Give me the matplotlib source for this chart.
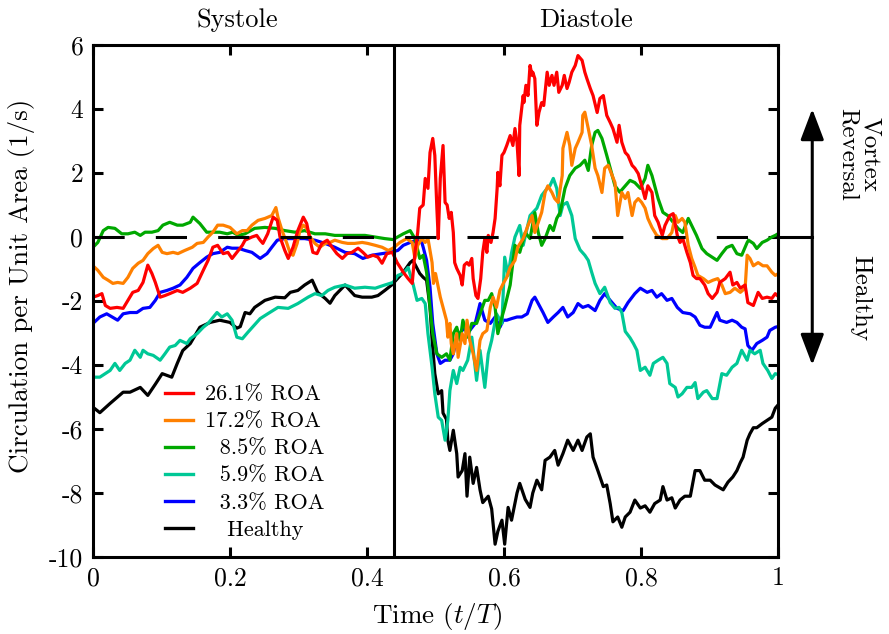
import matplotlib
matplotlib.use("Agg")
import matplotlib.pyplot as plt
from matplotlib.lines import Line2D

plt.rcParams['font.family'] = ['cmr10', 'DejaVu Serif']
plt.rcParams['mathtext.fontset'] = 'cm'
plt.rcParams['axes.unicode_minus'] = False
plt.rcParams['axes.formatter.use_mathtext'] = False

# ---------------- data ----------------
t_red = [0, .007, .013, .018, .025, .035, .044, .051, .058, .066, .073, .080, .086, .091, .098, .105, .112, .123, .131, .142,
         .152, .161, .168, .175, .182, .190, .197, .203, .210, .218, .222, .232, .239, .244, .248, .255, .263, .269, .273, .280,
         .285, .292, .299, .307, .312, .317, .321, .327, .334, .342, .349, .356, .364, .371, .378, .387, .394, .401, .409, .416,
         .422, .429, .437, .444, .453, .460, .466, .470, .474, .477, .482, .485, .489, .492, .496, .499, .502, .504, .507, .511,
         .514, .517, .520, .523, .526, .528, .531, .536, .539, .542, .546, .549, .553, .555, .559, .562, .566, .569, .572, .575,
         .577, .581, .584, .587, .590, .591, .594, .597, .600, .604, .609, .613, .616, .619, .622, .623, .628, .629, .632, .635,
         .638, .641, .642, .645, .648, .651, .655, .658, .663, .666, .670, .673, .677, .680, .685, .688, .692, .695, .699, .704,
         .708, .714, .718, .721, .726, .730, .736, .740, .745, .750, .755, .759, .765, .768, .772, .777, .781, .787, .791, .796,
         .801, .806, .810, .816, .820, .825, .831, .835, .842, .847, .853, .857, .861, .867, .872, .876, .881, .886, .893, .898,
         .904, .911, .915, .923, .930, .934, .940, .945, .952, .956, .964, .971, .977, .984, .991, .996, 1.0]
v_red = [-1.88, -1.83, -1.77, -2.14, -2.23, -2.2, -2.23, -1.98, -1.73, -1.67, -1.42, -0.88, -1.14, -1.42, -1.88, -1.83, -1.77, -1.67, -1.73, -1.6,
         -1.45, -1.04, -0.73, -0.32, -0.26, -0.52, -0.48, -0.67, -0.48, -0.26, -0.1, 0.0, 0.05, -0.1, -0.2, 0.1, 0.62, 0.52, 0.0, -0.42,
         -0.67, -0.32, 0.2, 0.62, 0.42, -0.1, -0.48, -0.52, -0.2, -0.1, -0.32, -0.52, -0.67, -0.52, -0.48, -0.35, -0.48, -0.63, -0.57, -0.63,
         -0.82, -0.52, -0.48, -0.8, -1.1, -1.3, -1.45, -0.48, 0.14, 0.9, 1.0, 1.83, 1.52, 2.64, 3.08, 2.55, 0.9, -0.05, 1.83, 2.86,
         1.08, 1.0, 0.58, 0.77, 0.14, -0.8, -0.98, -1.2, -1.5, -0.88, -0.8, -0.88, -0.67, -1.3, -1.83, -1.92, -1.3, -0.48, -0.05, -0.48,
         0.05, -0.17, 0.14, 0.58, 1.52, 2.02, 1.6, 2.55, 2.64, 2.86, 3.17, 2.86, 3.39, 2.96, 1.92, 3.49, 4.42, 4.2, 4.74, 4.42,
         5.36, 5.05, 5.15, 4.95, 3.49, 3.89, 4.2, 4.11, 5.15, 4.74, 5.05, 4.74, 5.15, 4.52, 4.74, 5.05, 4.64, 4.83, 5.15, 5.36,
         5.67, 5.52, 5.15, 4.95, 4.64, 4.42, 3.89, 4.33, 4.42, 3.8, 3.58, 3.39, 2.96, 3.49, 2.96, 2.64, 2.55, 2.24, 2.15, 1.98,
         1.6, 1.2, 1.6, 1.39, 0.67, 0.46, 0.05, 0.36, 0.67, 0.73, 0.05, -0.17, -0.05, -0.48, -0.8, -1.2, -1.3, -1.3, -1.5, -1.77,
         -1.92, -1.73, -1.42, -1.3, -1.1, -1.5, -1.42, -1.6, -1.5, -2.05, -2.14, -1.73, -1.92, -1.88, -1.92, -1.77, -1.85]

t_orange = [0, .007, .015, .022, .029, .036, .044, .051, .058, .066, .073, .080, .088, .095, .101, .108, .117, .124, .134, .145,
            .152, .161, .168, .175, .182, .190, .200, .210, .218, .225, .232, .241, .251, .261, .267, .270, .276, .283, .288, .292,
            .298, .302, .307, .312, .317, .324, .331, .339, .346, .353, .364, .372, .382, .393, .401, .412, .422, .431, .438, .448,
            .458, .466, .470, .474, .480, .485, .489, .495, .497, .500, .507, .511, .516, .518, .521, .523, .526, .531, .533, .539,
            .543, .546, .550, .555, .560, .565, .569, .575, .580, .584, .589, .594, .599, .604, .609, .616, .620, .628, .635, .641,
            .645, .650, .655, .660, .664, .670, .674, .679, .685, .686, .692, .696, .699, .704, .708, .714, .715, .718, .723, .728,
            .733, .737, .743, .747, .752, .758, .762, .766, .772, .777, .781, .787, .791, .796, .801, .806, .810, .816, .823, .831,
            .838, .845, .850, .854, .860, .864, .869, .874, .879, .883, .891, .898, .905, .912, .918, .923, .930, .937, .945, .952,
            .955, .959, .964, .971, .978, .984, .991, .996, 1.0]
v_orange = [-0.9, -1.04, -1.26, -1.35, -1.45, -1.42, -1.45, -1.26, -0.98, -0.82, -0.73, -0.52, -0.36, -0.26, -0.48, -0.52, -0.48, -0.52, -0.42, -0.32,
            -0.2, -0.17, 0.0, 0.15, 0.37, 0.37, 0.3, 0.1, 0.2, 0.2, 0.37, 0.52, 0.58, 0.67, 0.92, 0.62, 0.2, -0.2, -0.52, -0.57,
            -0.2, 0.2, 0.37, 0.27, 0.0, -0.2, -0.32, -0.2, -0.17, -0.1, -0.17, -0.2, -0.2, -0.17, -0.2, -0.26, -0.32, -0.42, -0.35, -0.17,
            -0.05, -0.17, -0.67, -0.26, -0.05, -0.17, -0.05, -0.8, -1.45, -1.14, -1.88, -2.2, -2.6, -3.13, -2.7, -3.33, -3.65, -3.02, -3.76, -3.02,
            -3.33, -2.6, -3.23, -3.65, -4.17, -3.23, -3.02, -2.92, -2.2, -1.88, -2.2, -1.67, -1.45, -1.26, -0.95, -0.73, -0.32, -0.05, 0.36, 0.67,
            0.14, 0.46, 0.77, 1.39, 1.6, 1.39, 1.2, 1.08, 1.92, 2.77, 3.27, 2.86, 2.24, 2.77, 2.96, 3.27, 3.8, 3.9, 3.39, 2.86,
            2.15, 1.92, 1.39, 2.15, 2.24, 1.92, 1.7, 0.67, 1.39, 1.2, 1.39, 0.67, 1.08, 1.2, 1.08, 0.9, 0.58, 0.3, 0.05, -0.05,
            -0.05, 0.14, 0.67, 0.46, 0.58, 0.46, -0.26, -0.67, -0.95, -1.2, -1.3, -1.42, -1.35, -1.3, -1.5, -1.77, -1.73, -1.6, -1.73, -1.6,
            -0.57, -0.67, -0.9, -0.8, -0.9, -0.9, -1.1, -1.2, -1.15]

t_green = [0, .007, .015, .022, .032, .042, .051, .061, .069, .076, .086, .095, .102, .112, .123, .131, .142, .146, .156, .166,
           .175, .185, .196, .204, .212, .222, .236, .251, .266, .280, .295, .309, .324, .339, .353, .368, .382, .397, .412, .426,
           .438, .453, .463, .470, .477, .482, .487, .492, .496, .502, .509, .516, .521, .526, .531, .536, .540, .547, .553, .560,
           .565, .572, .577, .582, .587, .591, .597, .601, .609, .616, .623, .631, .638, .645, .650, .655, .660, .667, .672, .677,
           .682, .689, .696, .704, .711, .718, .723, .728, .733, .737, .743, .750, .758, .762, .769, .777, .784, .791, .799, .806,
           .810, .816, .820, .825, .832, .839, .847, .854, .861, .869, .876, .881, .889, .896, .904, .911, .918, .925, .933, .940,
           .947, .955, .957, .964, .969, .977, .984, .991, .996, 1.0]
v_green = [-0.32, -0.17, 0.2, 0.3, 0.27, 0.1, 0.1, 0.15, 0.05, 0.15, 0.15, 0.2, 0.37, 0.46, 0.37, 0.37, 0.46, 0.62, 0.42, 0.15,
           0.15, 0.15, 0.1, 0.15, 0.05, 0.1, 0.27, 0.3, 0.27, 0.2, 0.15, 0.2, 0.1, 0.1, 0.05, 0.05, 0.05, 0.05, 0.0, -0.05,
           -0.08, 0.1, 0.2, -0.05, -0.67, -0.57, -1.1, -2.2, -3.02, -3.65, -3.76, -3.65, -3.85, -3.02, -2.82, -3.23, -2.6, -3.13, -2.7, -2.7,
           -2.4, -1.98, -1.98, -1.77, -2.2, -3.02, -2.5, -2.2, -1.5, -0.26, -0.48, 0.14, -0.05, 0.76, 0.14, -0.26, -0.05, 0.36, 0.2, 0.58,
           0.77, 1.52, 1.92, 2.15, 2.24, 2.4, 2.08, 2.86, 3.27, 3.33, 3.08, 2.55, 1.92, 1.6, 1.4, 1.6, 1.77, 1.7, 1.52, 1.83,
           2.24, 1.92, 1.6, 1.2, 0.77, 0.67, 0.46, 0.27, 0.14, 0.58, 0.27, 0.05, -0.36, -0.52, -0.63, -0.73, -0.52, -0.33, -0.26, -0.52,
           -0.57, -0.17, -0.1, -0.2, -0.36, -0.17, -0.1, 0.0, 0.05, 0.1]

t_teal = [0, .010, .018, .025, .032, .039, .047, .054, .061, .069, .073, .080, .088, .098, .105, .112, .120, .127, .137, .142,
          .152, .161, .168, .181, .188, .196, .203, .210, .218, .226, .244, .255, .270, .285, .299, .314, .324, .334, .343, .353,
          .368, .382, .397, .412, .426, .438, .445, .453, .460, .467, .473, .480, .485, .489, .495, .499, .504, .509, .514, .518,
          .521, .526, .531, .536, .540, .547, .553, .560, .565, .572, .577, .582, .589, .597, .601, .606, .611, .616, .623, .628,
          .638, .648, .655, .663, .667, .672, .677, .682, .686, .692, .699, .704, .711, .718, .723, .728, .733, .740, .747, .755,
          .762, .768, .772, .777, .784, .789, .794, .799, .806, .813, .818, .825, .832, .838, .842, .850, .854, .860, .867, .874,
          .879, .883, .891, .896, .904, .911, .918, .925, .933, .940, .947, .955, .959, .966, .974, .978, .985, .991, .996, 1.0]
v_teal = [-4.38, -4.38, -4.27, -4.17, -3.95, -4.17, -3.95, -3.85, -3.54, -3.76, -3.54, -3.65, -3.7, -3.85, -3.65, -3.44, -3.39, -3.23, -3.33, -3.18,
          -3.02, -2.82, -2.7, -2.36, -2.5, -2.4, -2.6, -3.13, -3.18, -2.98, -2.55, -2.4, -2.2, -2.23, -2.08, -1.88, -1.77, -1.83, -1.67, -1.57,
          -1.5, -1.6, -1.57, -1.6, -1.5, -1.42, -1.2, -1.14, -0.95, -1.45, -1.98, -1.92, -2.08, -3.02, -4.07, -4.9, -5.63, -5.73, -6.35, -5.73,
          -4.8, -4.17, -4.58, -4.07, -4.17, -3.85, -3.13, -4.48, -3.54, -4.7, -3.65, -3.23, -2.4, -2.7, -0.63, -1.2, -0.5, 0.0, 0.36, -0.26,
          0.67, 0.9, 1.3, 1.52, 1.6, 1.83, 1.52, 0.67, 1.0, 1.08, 0.67, -0.05, -0.4, -0.57, -0.73, -1.1, -1.45, -1.77, -1.57, -2.05,
          -2.23, -2.2, -2.36, -2.95, -3.15, -3.33, -3.54, -4.17, -4.07, -4.32, -3.95, -3.85, -3.76, -3.95, -4.58, -4.7, -5.0, -4.9, -4.7, -4.7,
          -4.55, -5.05, -4.85, -4.8, -5.05, -5.05, -4.27, -4.32, -4.07, -3.95, -3.54, -3.85, -3.54, -3.65, -3.54, -3.95, -4.17, -4.42, -4.27, -4.3]

t_blue = [0, .010, .020, .028, .036, .044, .054, .064, .073, .083, .091, .098, .108, .117, .127, .137, .146, .156, .166, .175,
          .185, .196, .203, .212, .222, .232, .244, .254, .261, .269, .280, .295, .309, .324, .339, .353, .368, .382, .394, .407,
          .422, .434, .445, .453, .463, .473, .480, .482, .487, .492, .496, .502, .507, .514, .521, .526, .531, .539, .543, .550,
          .558, .565, .572, .580, .587, .594, .599, .604, .611, .619, .626, .634, .641, .645, .653, .657, .664, .672, .679, .686,
          .693, .701, .708, .715, .723, .733, .740, .747, .755, .765, .774, .781, .791, .799, .809, .816, .823, .830, .838, .845,
          .853, .861, .872, .879, .886, .893, .901, .911, .915, .925, .933, .940, .947, .952, .956, .962, .969, .977, .984, .988,
          .996, 1.0]
v_blue = [-2.7, -2.5, -2.4, -2.5, -2.6, -2.4, -2.36, -2.36, -2.23, -2.2, -1.98, -1.73, -1.67, -1.6, -1.5, -1.26, -0.98, -0.8, -0.63, -0.52,
          -0.48, -0.32, -0.35, -0.35, -0.42, -0.48, -0.67, -0.52, -0.32, -0.1, -0.05, -0.05, -0.05, -0.1, -0.2, -0.32, -0.48, -0.52, -0.67, -0.57,
          -0.52, -0.48, -0.42, -0.26, -0.17, -0.1, -0.17, -0.32, -0.73, -1.57, -2.7, -3.65, -3.95, -3.85, -3.85, -3.65, -3.13, -2.92, -2.82, -2.92,
          -2.7, -2.08, -2.6, -2.7, -2.5, -2.82, -2.6, -2.6, -2.55, -2.5, -2.5, -2.4, -1.98, -1.88, -2.2, -2.36, -2.67, -2.5, -2.36, -2.2,
          -2.5, -2.36, -2.08, -2.2, -2.14, -2.3, -1.98, -1.77, -1.98, -2.23, -2.3, -2.05, -1.77, -1.6, -1.73, -1.67, -1.88, -1.77, -1.98, -1.92,
          -2.2, -2.36, -2.4, -2.5, -2.76, -2.82, -2.82, -2.36, -2.6, -2.67, -2.6, -2.67, -2.82, -2.87, -3.39, -3.54, -3.33, -3.23, -3.13, -2.92,
          -2.82, -2.8]

t_black = [0, .010, .025, .044, .054, .069, .080, .091, .101, .115, .123, .131, .142, .156, .171, .185, .200, .210, .215, .222,
           .229, .236, .251, .266, .280, .288, .299, .309, .320, .328, .339, .346, .353, .368, .382, .393, .407, .416, .426, .436,
           .453, .463, .467, .477, .482, .487, .492, .495, .499, .504, .509, .511, .516, .518, .521, .526, .531, .533, .539, .543,
           .546, .550, .555, .560, .565, .569, .577, .582, .587, .591, .597, .601, .606, .611, .619, .623, .631, .638, .642, .648,
           .655, .660, .667, .674, .679, .686, .693, .701, .708, .714, .721, .726, .730, .737, .745, .750, .755, .759, .766, .772,
           .777, .784, .791, .799, .806, .813, .820, .828, .832, .838, .845, .850, .857, .864, .872, .879, .886, .893, .901, .908,
           .920, .927, .934, .940, .945, .949, .955, .959, .964, .969, .977, .984, .991, .996, 1.0]
v_black = [-5.32, -5.49, -5.2, -4.85, -4.85, -4.7, -4.95, -4.6, -4.27, -4.38, -3.95, -3.55, -3.33, -2.82, -2.67, -2.6, -2.67, -2.85, -2.8, -2.36,
           -2.4, -2.2, -1.98, -1.88, -1.9, -1.73, -1.67, -1.5, -1.35, -1.73, -1.92, -2.07, -1.83, -1.5, -1.83, -1.88, -1.88, -1.83, -1.67, -1.5,
           -1.1, -0.8, -0.73, -1.14, -1.26, -1.35, -2.2, -3.2, -4.27, -4.9, -4.8, -5.5, -5.7, -6.35, -6.67, -6.04, -6.77, -7.5, -7.3, -6.77,
           -8.1, -6.88, -7.7, -7.2, -7.9, -8.3, -8.1, -8.5, -9.6, -9.2, -8.85, -9.6, -8.45, -8.85, -8.0, -7.7, -8.2, -8.45, -8.0, -7.6,
           -7.9, -6.98, -6.88, -6.67, -7.13, -6.77, -6.35, -6.67, -6.35, -6.67, -6.25, -6.15, -6.88, -7.3, -7.8, -7.75, -8.33, -8.9, -8.75, -9.07,
           -8.75, -8.6, -8.22, -8.47, -8.4, -8.6, -8.33, -8.22, -7.8, -8.22, -8.15, -8.47, -8.22, -8.1, -8.1, -7.3, -7.3, -7.6, -7.6, -7.75,
           -7.9, -7.66, -7.5, -7.3, -7.05, -6.88, -6.35, -6.15, -5.96, -5.96, -5.83, -5.73, -5.63, -5.35, -5.25]

labels = ["26.1% ROA", "17.2% ROA", "  8.5% ROA", "  5.9% ROA", "  3.3% ROA", "   Healthy"]
colors = ["#ff0000", "#ff8000", "#00a800", "#00c896", "#0000ff", "#000000"]
series_t = [t_red, t_orange, t_green, t_teal, t_blue, t_black]
series_v = [v_red, v_orange, v_green, v_teal, v_blue, v_black]

xticks = [0, 0.2, 0.4, 0.6, 0.8, 1]
xticklabels = ["0", "0.2", "0.4", "0.6", "0.8", "1"]
yticks = [-10, -8, -6, -4, -2, 0, 2, 4, 6]
yticklabels = ["-10", "-8", "-6", "-4", "-2", "0", "2", "4", "6"]
t_split = 0.44

# ---------------- figure ----------------
fig = plt.figure(figsize=(8.89, 6.34), dpi=100)
ax = fig.add_axes([93/889, 1-557/634, 685/889, 512/634])

lw = 2.3
handles = []
for i in [5, 4, 3, 2, 1, 0]:
    ax.plot(series_t[i], series_v[i], color=colors[i], lw=lw, solid_joinstyle='round', zorder=2 + (5 - i) * 0.1)
for i in range(6):
    handles.append(Line2D([0], [0], color=colors[i], lw=2.4))

# dashed zero line and systole/diastole divider
ax.plot([0, 1], [0, 0], color='k', lw=2.2, linestyle=(0, (10.2, 10.2)), dash_capstyle='butt', zorder=5)
ax.axvline(t_split, color='k', lw=2.2, zorder=6)

ax.set_xlim(0, 1)
ax.set_ylim(-10, 6)
ax.set_xticks(xticks)
ax.set_xticklabels(xticklabels)
ax.set_yticks(yticks)
ax.set_yticklabels(yticklabels)
ax.tick_params(direction='in', length=7, width=2.2, labelsize=18.5, top=True, right=True, pad=7)
for s in ax.spines.values():
    s.set_linewidth(2.2)

# phase labels
ax.text(0.21, 1.048, "Systole", transform=ax.get_xaxis_transform(), ha='center', va='center', fontsize=19)
ax.text(0.72, 1.048, "Diastole", transform=ax.get_xaxis_transform(), ha='center', va='center', fontsize=19)

# axis labels
fig.text(22/889, 1-286/634, "Circulation per Unit Area (1/s)", rotation=90, ha='center', va='center', fontsize=19.5)
fig.text(437/889, 1-617/634, "Time ($t/T$)", ha='center', va='center', fontsize=19.5)

# right side annotation
bt = ax.get_yaxis_transform()
ax.plot([1.0, 1.05], [0, 0], color='k', lw=2.2, transform=bt, clip_on=False, zorder=6)
ax.annotate('', xy=(1.05, 4.0), xytext=(1.05, -4.0), xycoords=bt, textcoords=bt,
            arrowprops=dict(arrowstyle='<|-|>,head_length=0.95,head_width=0.36', lw=2.2, color='k',
                            mutation_scale=20, shrinkA=0, shrinkB=0),
            annotation_clip=False)
fig.text(859/889, 1-154/634, "Vortex\nReversal", rotation=270, ha='center', va='center',
         multialignment='center', fontsize=18, linespacing=1.0)
fig.text(860/889, 1-298/634, "Healthy", rotation=270, ha='center', va='center', fontsize=18)

leg = ax.legend(handles, labels, loc='center', bbox_to_anchor=(0.222, 0.185), frameon=False,
                fontsize=16, handlelength=1.25, handletextpad=0.55, labelspacing=0.34, borderpad=0)

fig.savefig("out.png", dpi=100)
